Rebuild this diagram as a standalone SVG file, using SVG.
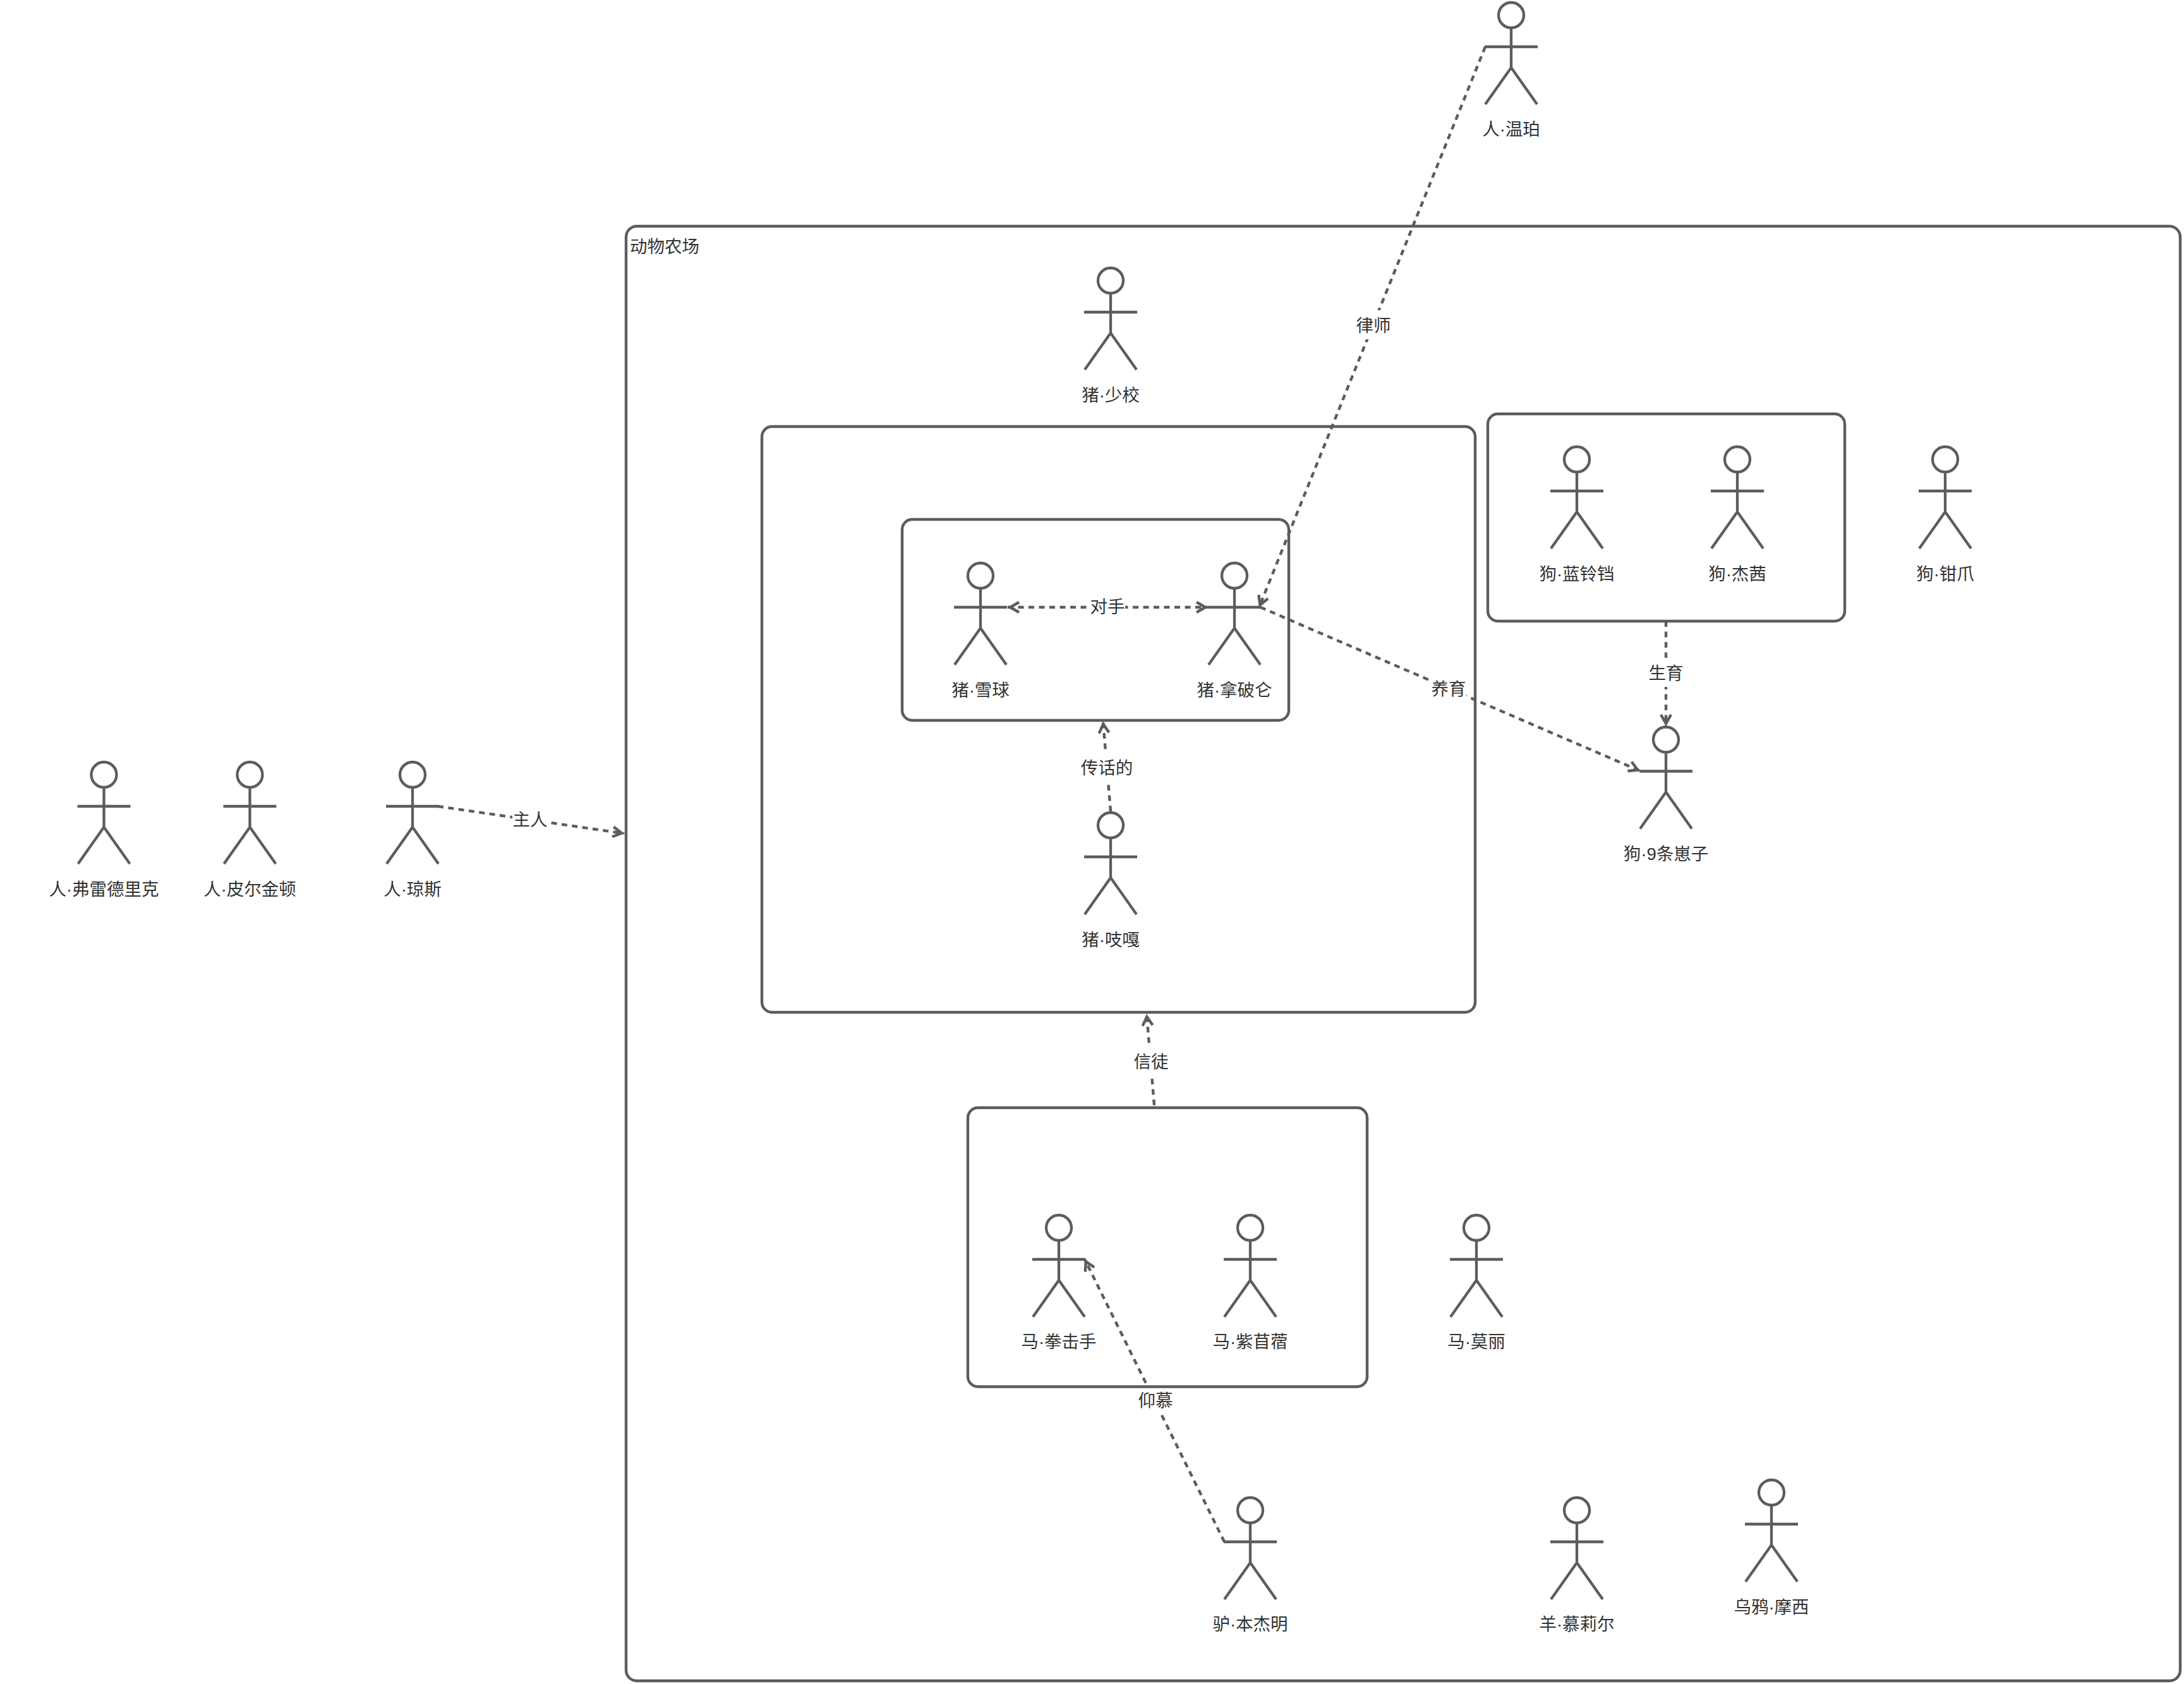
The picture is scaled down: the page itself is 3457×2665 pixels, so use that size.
<svg xmlns="http://www.w3.org/2000/svg" xmlns:xlink="http://www.w3.org/1999/xlink" width="3457" height="2665" viewBox="0 0 3457 2665">
<style>
text{font-family:"Liberation Sans","Noto Sans CJK SC",sans-serif;font-size:27.5px;fill:#333;text-anchor:middle}
.box{fill:none;stroke:#5c5c5c;stroke-width:4.4}
.a{fill:none;stroke:#5c5c5c;stroke-width:4.3}
.e{fill:none;stroke:#5c5c5c;stroke-width:4.4;stroke-dasharray:9 7.5;marker-end:url(#open)}
.lb{fill:#fff;stroke:none}
</style>
<defs>
<marker id="open" markerUnits="userSpaceOnUse" markerWidth="30" markerHeight="30" refX="22" refY="12" orient="auto-start-reverse" viewBox="0 0 30 24"><path d="M4 4L18 12L4 20" fill="none" stroke="#5c5c5c" stroke-width="4.4"/></marker>
<g id="actor"><circle cx="0" cy="0" r="20" fill="#fff" stroke="#5c5c5c" stroke-width="4.3"/><path d="M0 20V83M-42 50H42M-41 141L0 83L41 141" class="a"/></g>
</defs>
<rect width="3457" height="2665" fill="#fff"/>
<g id="containers">
<g id="farm"><rect class="box" x="991" y="358" width="2460" height="2302" rx="17"/><text x="1052" y="400">动物农场</text></g>
<rect id="pigs-outer" class="box" x="1206" y="675" width="1129" height="927" rx="16"/>
<rect id="pigs-inner" class="box" x="1428" y="822" width="612" height="318" rx="16"/>
<rect id="dogs" class="box" x="2355" y="655" width="565" height="328" rx="16"/>
</g>
<g id="n1"><use xlink:href="#actor" x="164.500" y="1226"/><text x="164.500" y="1417">人·弗雷德里克</text></g>
<g id="n2"><use xlink:href="#actor" x="395.500" y="1226"/><text x="395.500" y="1417">人·皮尔金顿</text></g>
<g id="n3"><use xlink:href="#actor" x="653" y="1226"/><text x="653" y="1417">人·琼斯</text></g>
<g id="n4"><use xlink:href="#actor" x="2392" y="24"/><text x="2392" y="214">人·温珀</text></g>
<g id="n5"><use xlink:href="#actor" x="1758" y="444"/><text x="1758" y="635">猪·少校</text></g>
<g id="n6"><use xlink:href="#actor" x="1552" y="911"/><text x="1552" y="1102">猪·雪球</text></g>
<g id="n7"><use xlink:href="#actor" x="1954" y="911"/><text x="1954" y="1102">猪·拿破仑</text></g>
<g id="n8"><use xlink:href="#actor" x="1758" y="1306"/><text x="1758" y="1497">猪·吱嘎</text></g>
<g id="n9"><use xlink:href="#actor" x="2496" y="727"/><text x="2496" y="918">狗·蓝铃铛</text></g>
<g id="n10"><use xlink:href="#actor" x="2750" y="727"/><text x="2750" y="918">狗·杰茜</text></g>
<g id="n11"><use xlink:href="#actor" x="3079" y="727"/><text x="3079" y="918">狗·钳爪</text></g>
<g id="n12"><use xlink:href="#actor" x="2637" y="1170.500"/><text x="2637" y="1361">狗·9条崽子</text></g>
<g id="n13"><use xlink:href="#actor" x="1676" y="1943"/><text x="1676" y="2133">马·拳击手</text></g>
<g id="n14"><use xlink:href="#actor" x="1979" y="1943"/><text x="1979" y="2133">马·紫苜蓿</text></g>
<g id="n15"><use xlink:href="#actor" x="2337" y="1943"/><text x="2337" y="2133">马·莫丽</text></g>
<g id="n16"><use xlink:href="#actor" x="1979" y="2390"/><text x="1979" y="2580">驴·本杰明</text></g>
<g id="n17"><use xlink:href="#actor" x="2496" y="2390"/><text x="2496" y="2580">羊·慕莉尔</text></g>
<g id="n18"><use xlink:href="#actor" x="2804" y="2362"/><text x="2804" y="2553">乌鸦·摩西</text></g>
<g id="connectors">
<path class="e" d="M693 1276L988 1319"/>
<path class="e" d="M2351 74L1993 961"/>
<path class="e" d="M1595 961H1912" style="marker-start:url(#open)"/>
<path class="e" d="M1995 961L2596 1220"/>
<path class="e" d="M1758 1284L1746 1142"/>
<path class="e" d="M2637 983V1149"/>
<path class="e" d="M1827 1749L1815 1605"/>
<path class="e" d="M1938 2440L1717 1993"/>
<rect class="lb" x="811" y="1273" width="56" height="46"/><text x="839" y="1307">主人</text>
<rect class="lb" x="2146" y="491" width="56" height="46"/><text x="2174" y="525">律师</text>
<rect class="lb" x="1725" y="936" width="56" height="46"/><text x="1753" y="970">对手</text>
<rect class="lb" x="2265" y="1066" width="56" height="46"/><text x="2293" y="1100">养育</text>
<rect class="lb" x="1710" y="1191" width="84" height="46"/><text x="1752" y="1225">传话的</text>
<rect class="lb" x="2609" y="1041" width="56" height="46"/><text x="2637" y="1075">生育</text>
<rect class="lb" x="1794" y="1656" width="56" height="46"/><text x="1822" y="1690">信徒</text>
<rect class="lb" x="1801" y="2192" width="56" height="46"/><text x="1829" y="2226">仰慕</text>
</g>
<rect id="horses" class="box" x="1532" y="1753" width="632" height="441.500" rx="16"/>
</svg>
